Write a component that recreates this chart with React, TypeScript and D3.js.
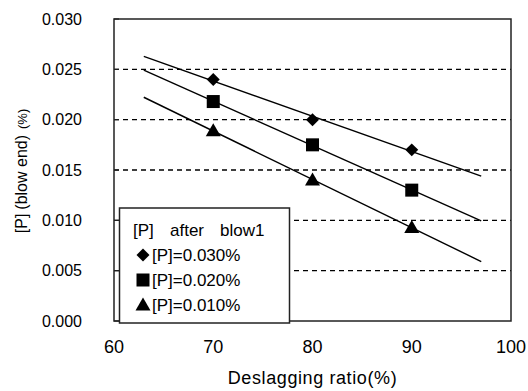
import React from 'react';
import * as d3 from 'd3';

// Deslagging ratio (%) at each measurement
const ratios = [70, 80, 90];
// [P] at blow end (%) per initial [P] after blow 1
const pHigh = [0.024, 0.02, 0.017];
const pMid = [0.0218, 0.0175, 0.013];
const pLow = [0.0189, 0.014, 0.0093];
const seriesNames = ['[P]=0.030%', '[P]=0.020%', '[P]=0.010%'];
const yTicks = [0, 0.005, 0.01, 0.015, 0.02, 0.025, 0.03];
const xTicks = [60, 70, 80, 90, 100];
const trendRange = [63, 97];

const W = 528;
const H = 391;
const plot = { left: 114, right: 511, top: 19, bottom: 321 };
const FONT = '"Liberation Sans", Arial, "Noto Sans CJK JP", sans-serif';

// least squares fit for the trend lines
function fit(xs: number[], ys: number[]) {
  const mx = d3.mean(xs) as number;
  const my = d3.mean(ys) as number;
  const slope = d3.sum(xs, (x, i) => (x - mx) * (ys[i] - my)) / d3.sum(xs, x => (x - mx) ** 2);
  return (x: number) => my + slope * (x - mx);
}

const Marker: React.FC<{ kind: number; x: number; y: number }> = ({ kind, x, y }) => {
  if (kind === 0) {
    const p = d3.symbol().type(d3.symbolSquare).size(84)();
    return <path d={p || ''} transform={`translate(${x},${y}) rotate(45)`} fill="#000" />;
  }
  if (kind === 1) {
    return <rect x={x - 6.5} y={y - 6.5} width={13} height={13} fill="#000" />;
  }
  return <path d={`M${x},${y - 7.5}L${x + 7.5},${y + 5.5}L${x - 7.5},${y + 5.5}Z`} fill="#000" />;
};

export default function App() {
  const x = d3.scaleLinear().domain([60, 100]).range([plot.left, plot.right]);
  const y = d3.scaleLinear().domain([0, 0.03]).range([plot.bottom, plot.top]);
  const line = d3.line<number[]>().x(d => x(d[0])).y(d => y(d[1]));

  const series = [pHigh, pMid, pLow];

  return (
    <svg width={W} height={H} style={{ position: 'absolute', left: 0, top: 0, background: '#fff' }}>
      {/* dashed grid */}
      {yTicks.filter(t => t > 0 && t < 0.03).map(t => (
        <line key={t} x1={plot.left} x2={plot.right} y1={y(t)} y2={y(t)}
          stroke="#000" strokeWidth={1.3} strokeDasharray="5,4" />
      ))}

      {/* trend lines */}
      {series.map((s, i) => {
        const f = fit(ratios, s);
        return <path key={i} d={line(trendRange.map(r => [r, f(r)])) || ''} fill="none" stroke="#000" strokeWidth={1.4} />;
      })}

      {/* markers */}
      {series.map((s, i) => s.map((v, j) => <Marker key={`${i}-${j}`} kind={i} x={x(ratios[j])} y={y(v)} />))}

      {/* frame */}
      <rect x={plot.left} y={plot.top} width={plot.right - plot.left} height={plot.bottom - plot.top}
        fill="none" stroke="#222" strokeWidth={1.5} />
      {yTicks.map(t => (
        <line key={t} x1={plot.left} x2={plot.left + 5} y1={y(t)} y2={y(t)} stroke="#222" strokeWidth={1.2} />
      ))}

      {/* y tick labels */}
      {yTicks.map(t => (
        <text key={t} x={82} y={y(t)} dy="0.35em" textAnchor="end" fontFamily={FONT} fontSize={16} fill="#000">
          {d3.format('.3f')(t)}
        </text>
      ))}
      {/* x tick labels */}
      {xTicks.map(t => (
        <text key={t} x={x(t)} y={353} textAnchor="middle" fontFamily={FONT} fontSize={18} fill="#000">
          {t}
        </text>
      ))}

      {/* axis titles */}
      <text x={(plot.left + plot.right) / 2} y={384} textAnchor="middle" fontFamily={FONT} fontSize={18}
        letterSpacing={0.6} fill="#000">
        Deslagging ratio(%)
      </text>
      <text transform={`translate(27,171) rotate(-90)`} textAnchor="middle" fontFamily={FONT} fontSize={16} fill="#000">
        <tspan>[P]</tspan>
        <tspan dx={4}>(blow end)</tspan>
        <tspan dx={6} fontSize={13}>(%)</tspan>
      </text>

      {/* legend */}
      <rect x={119.5} y={208} width={170} height={115} fill="#fff" stroke="#222" strokeWidth={1.5} />
      <text y={236} fontFamily={FONT} fontSize={17} fill="#000">
        <tspan x={133}>[P]</tspan>
        <tspan x={170}>after</tspan>
        <tspan x={220}>blow1</tspan>
      </text>
      {seriesNames.map((name, i) => (
        <g key={name}>
          <Marker kind={i} x={143} y={255 + i * 25} />
          <text x={152} y={261 + i * 25} fontFamily={FONT} fontSize={17} fill="#000">{name}</text>
        </g>
      ))}
    </svg>
  );
}
